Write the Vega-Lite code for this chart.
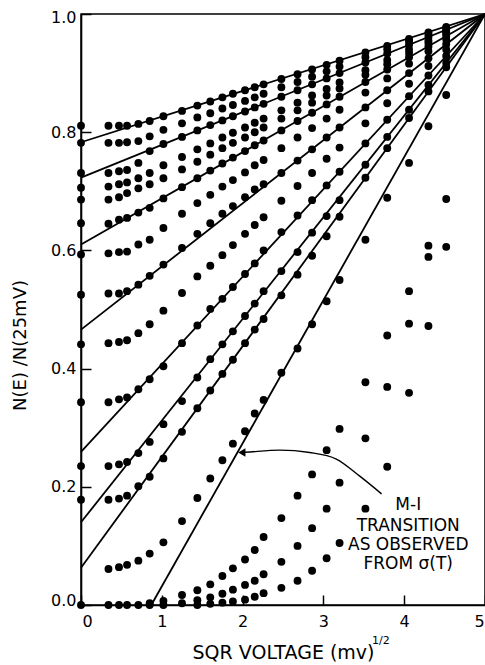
{
"$schema":"https://vega.github.io/schema/vega-lite/v6.json",
"width":404,"height":591,
"autosize":"none",
"padding":{"left":81,"top":14,"right":0,"bottom":60},
"background":"white",
"config":{"view":{"stroke":"black","strokeWidth":1.5},
"axis":{"domainColor":"black","domainWidth":1.6,"tickColor":"black","tickWidth":1.5,"tickSize":-10,"grid":false,"labelFont":"DejaVu Sans","labelFontSize":16,"labelColor":"black","titleFont":"DejaVu Sans","titleFontSize":17,"titleFontWeight":"normal","titleColor":"black"},
"axisX":{"labelPadding":18,"labelFlush":false},
"axisY":{"labelPadding":15}},
"datasets":{
"lines":[{"x":0,"y":0.783,"x2":5,"y2":1},{"x":0,"y":0.723,"x2":5,"y2":1},{"x":0,"y":0.61,"x2":5,"y2":1},{"x":0,"y":0.466,"x2":5,"y2":1},{"x":0,"y":0.259,"x2":5,"y2":1},{"x":0,"y":0.14,"x2":5,"y2":1},{"x":0,"y":0.063,"x2":5,"y2":1},{"x":0.87,"y":0,"x2":5,"y2":1}],
"pts":[
{"x":0,"y":0.811},{"x":0.34,"y":0.811},{"x":0.47,"y":0.811},{"x":0.57,"y":0.811},{"x":0.71,"y":0.814},{"x":0.85,"y":0.819},{"x":1.02,"y":0.827},{"x":1.25,"y":0.836},{"x":1.44,"y":0.845},{"x":1.6,"y":0.852},{"x":1.75,"y":0.859},{"x":1.88,"y":0.865},{"x":2.03,"y":0.871},{"x":2.15,"y":0.876},{"x":2.26,"y":0.881},{"x":2.48,"y":0.89},{"x":2.68,"y":0.898},{"x":2.86,"y":0.906},{"x":3.04,"y":0.914},{"x":3.2,"y":0.921},{"x":3.52,"y":0.935},{"x":3.79,"y":0.946},{"x":4.06,"y":0.958},{"x":4.3,"y":0.969},{"x":4.52,"y":0.978},
{"x":0,"y":0.782},{"x":0.34,"y":0.782},{"x":0.47,"y":0.782},{"x":0.57,"y":0.783},{"x":0.71,"y":0.785},{"x":0.85,"y":0.793},{"x":1.02,"y":0.804},{"x":1.25,"y":0.815},{"x":1.44,"y":0.825},{"x":1.6,"y":0.832},{"x":1.75,"y":0.84},{"x":1.88,"y":0.846},{"x":2.03,"y":0.853},{"x":2.15,"y":0.859},{"x":2.26,"y":0.865},{"x":2.48,"y":0.876},{"x":2.68,"y":0.885},{"x":2.86,"y":0.894},{"x":3.04,"y":0.903},{"x":3.2,"y":0.911},{"x":3.52,"y":0.927},{"x":3.79,"y":0.94},{"x":4.06,"y":0.954},{"x":4.3,"y":0.966},{"x":4.52,"y":0.976},
{"x":0,"y":0.731},{"x":0.34,"y":0.731},{"x":0.47,"y":0.734},{"x":0.57,"y":0.736},{"x":0.71,"y":0.748},{"x":0.85,"y":0.768},{"x":1.02,"y":0.78},{"x":1.25,"y":0.792},{"x":1.44,"y":0.803},{"x":1.6,"y":0.812},{"x":1.75,"y":0.82},{"x":1.88,"y":0.827},{"x":2.03,"y":0.835},{"x":2.15,"y":0.842},{"x":2.26,"y":0.848},{"x":2.48,"y":0.86},{"x":2.68,"y":0.871},{"x":2.86,"y":0.881},{"x":3.04,"y":0.891},{"x":3.2,"y":0.9},{"x":3.52,"y":0.918},{"x":3.79,"y":0.933},{"x":4.06,"y":0.948},{"x":4.3,"y":0.961},{"x":4.52,"y":0.973},
{"x":0,"y":0.706},{"x":0.34,"y":0.708},{"x":0.47,"y":0.712},{"x":0.57,"y":0.715},{"x":0.71,"y":0.722},{"x":0.85,"y":0.731},{"x":1.02,"y":0.744},{"x":1.25,"y":0.758},{"x":1.44,"y":0.771},{"x":1.6,"y":0.781},{"x":1.75,"y":0.791},{"x":1.88,"y":0.799},{"x":2.03,"y":0.808},{"x":2.15,"y":0.816},{"x":2.26,"y":0.823},{"x":2.48,"y":0.837},{"x":2.68,"y":0.85},{"x":2.86,"y":0.862},{"x":3.04,"y":0.873},{"x":3.2,"y":0.884},{"x":3.52,"y":0.905},{"x":3.79,"y":0.922},{"x":4.06,"y":0.94},{"x":4.3,"y":0.955},{"x":4.52,"y":0.969},
{"x":0,"y":0.686},{"x":0.34,"y":0.686},{"x":0.47,"y":0.69},{"x":0.57,"y":0.697},{"x":0.71,"y":0.705},{"x":0.85,"y":0.712},{"x":1.02,"y":0.722},{"x":1.25,"y":0.737},{"x":1.44,"y":0.75},{"x":1.6,"y":0.762},{"x":1.75,"y":0.773},{"x":1.88,"y":0.782},{"x":2.03,"y":0.791},{"x":2.15,"y":0.8},{"x":2.26,"y":0.808},{"x":2.48,"y":0.823},{"x":2.68,"y":0.837},{"x":2.86,"y":0.85},{"x":3.04,"y":0.862},{"x":3.2,"y":0.874},{"x":3.52,"y":0.897},{"x":3.79,"y":0.915},{"x":4.06,"y":0.934},{"x":4.3,"y":0.951},{"x":4.52,"y":0.967},
{"x":0,"y":0.646},{"x":0.34,"y":0.645},{"x":0.47,"y":0.652},{"x":0.57,"y":0.655},{"x":0.71,"y":0.664},{"x":0.85,"y":0.672},{"x":1.02,"y":0.688},{"x":1.25,"y":0.707},{"x":1.44,"y":0.722},{"x":1.6,"y":0.735},{"x":1.75,"y":0.747},{"x":1.88,"y":0.757},{"x":2.03,"y":0.768},{"x":2.15,"y":0.778},{"x":2.26,"y":0.786},{"x":2.48,"y":0.803},{"x":2.68,"y":0.819},{"x":2.86,"y":0.833},{"x":3.04,"y":0.847},{"x":3.2,"y":0.86},{"x":3.52,"y":0.885},{"x":3.79,"y":0.906},{"x":4.06,"y":0.927},{"x":4.3,"y":0.945},{"x":4.52,"y":0.963},
{"x":0,"y":0.593},{"x":0.34,"y":0.595},{"x":0.47,"y":0.597},{"x":0.57,"y":0.598},{"x":0.71,"y":0.61},{"x":0.85,"y":0.618},{"x":1.02,"y":0.638},{"x":1.25,"y":0.662},{"x":1.44,"y":0.68},{"x":1.6,"y":0.694},{"x":1.75,"y":0.708},{"x":1.88,"y":0.719},{"x":2.03,"y":0.732},{"x":2.15,"y":0.744},{"x":2.26,"y":0.753},{"x":2.48,"y":0.773},{"x":2.68,"y":0.791},{"x":2.86,"y":0.807},{"x":3.04,"y":0.823},{"x":3.2,"y":0.838},{"x":3.52,"y":0.867},{"x":3.79,"y":0.891},{"x":4.06,"y":0.916},{"x":4.3,"y":0.937},{"x":4.52,"y":0.957},
{"x":0,"y":0.525},{"x":0.34,"y":0.527},{"x":0.47,"y":0.527},{"x":0.57,"y":0.531},{"x":0.71,"y":0.542},{"x":0.85,"y":0.557},{"x":1.02,"y":0.576},{"x":1.25,"y":0.604},{"x":1.44,"y":0.628},{"x":1.6,"y":0.646},{"x":1.75,"y":0.662},{"x":1.88,"y":0.675},{"x":2.03,"y":0.69},{"x":2.15,"y":0.703},{"x":2.26,"y":0.712},{"x":2.48,"y":0.731},{"x":2.68,"y":0.752},{"x":2.86,"y":0.771},{"x":3.04,"y":0.791},{"x":3.2,"y":0.808},{"x":3.52,"y":0.842},{"x":3.79,"y":0.871},{"x":4.06,"y":0.9},{"x":4.3,"y":0.925},{"x":4.52,"y":0.949},
{"x":0,"y":0.441},{"x":0.34,"y":0.443},{"x":0.47,"y":0.445},{"x":0.57,"y":0.448},{"x":0.71,"y":0.46},{"x":0.85,"y":0.475},{"x":1.02,"y":0.498},{"x":1.25,"y":0.528},{"x":1.44,"y":0.556},{"x":1.6,"y":0.574},{"x":1.75,"y":0.592},{"x":1.88,"y":0.609},{"x":2.03,"y":0.628},{"x":2.15,"y":0.643},{"x":2.26,"y":0.656},{"x":2.48,"y":0.684},{"x":2.68,"y":0.709},{"x":2.86,"y":0.731},{"x":3.04,"y":0.755},{"x":3.2,"y":0.774},{"x":3.52,"y":0.815},{"x":3.79,"y":0.849},{"x":4.06,"y":0.882},{"x":4.3,"y":0.912},{"x":4.52,"y":0.94},
{"x":0,"y":0.343},{"x":0.34,"y":0.343},{"x":0.47,"y":0.348},{"x":0.57,"y":0.351},{"x":0.71,"y":0.365},{"x":0.85,"y":0.382},{"x":1.02,"y":0.404},{"x":1.25,"y":0.443},{"x":1.44,"y":0.473},{"x":1.6,"y":0.501},{"x":1.75,"y":0.518},{"x":1.88,"y":0.538},{"x":2.03,"y":0.56},{"x":2.15,"y":0.578},{"x":2.26,"y":0.6},{"x":2.48,"y":0.631},{"x":2.68,"y":0.659},{"x":2.86,"y":0.685},{"x":3.04,"y":0.71},{"x":3.2,"y":0.733},{"x":3.52,"y":0.781},{"x":3.79,"y":0.821},{"x":4.06,"y":0.861},{"x":4.3,"y":0.896},{"x":4.52,"y":0.929},
{"x":0,"y":0.235},{"x":0.34,"y":0.235},{"x":0.47,"y":0.238},{"x":0.57,"y":0.242},{"x":0.71,"y":0.257},{"x":0.85,"y":0.276},{"x":1.02,"y":0.306},{"x":1.25,"y":0.345},{"x":1.44,"y":0.385},{"x":1.6,"y":0.416},{"x":1.75,"y":0.441},{"x":1.88,"y":0.463},{"x":2.03,"y":0.489},{"x":2.15,"y":0.51},{"x":2.26,"y":0.531},{"x":2.48,"y":0.565},{"x":2.68,"y":0.597},{"x":2.86,"y":0.63},{"x":3.04,"y":0.658},{"x":3.2,"y":0.685},{"x":3.52,"y":0.745},{"x":3.79,"y":0.792},{"x":4.06,"y":0.838},{"x":4.3,"y":0.88},{"x":4.52,"y":0.917},
{"x":0,"y":0.178},{"x":0.34,"y":0.178},{"x":0.47,"y":0.18},{"x":0.57,"y":0.185},{"x":0.71,"y":0.201},{"x":0.85,"y":0.217},{"x":1.02,"y":0.248},{"x":1.25,"y":0.293},{"x":1.44,"y":0.333},{"x":1.6,"y":0.363},{"x":1.75,"y":0.391},{"x":1.88,"y":0.415},{"x":2.03,"y":0.443},{"x":2.15,"y":0.466},{"x":2.26,"y":0.484},{"x":2.48,"y":0.524},{"x":2.68,"y":0.559},{"x":2.86,"y":0.591},{"x":3.04,"y":0.624},{"x":3.2,"y":0.657},{"x":3.52,"y":0.723},{"x":3.79,"y":0.773},{"x":4.06,"y":0.824},{"x":4.3,"y":0.869},{"x":4.52,"y":0.91},
{"x":0.34,"y":0.061},{"x":0.47,"y":0.064},{"x":0.57,"y":0.068},{"x":0.71,"y":0.075},{"x":0.85,"y":0.087},{"x":1.02,"y":0.106},{"x":1.25,"y":0.142},{"x":1.44,"y":0.181},{"x":1.6,"y":0.214},{"x":1.75,"y":0.245},{"x":1.88,"y":0.273},{"x":2.03,"y":0.294},{"x":2.15,"y":0.324},{"x":2.26,"y":0.347},{"x":2.48,"y":0.393},{"x":2.68,"y":0.434},{"x":2.86,"y":0.475},{"x":3.04,"y":0.514},{"x":3.2,"y":0.55},{"x":3.52,"y":0.618},{"x":3.79,"y":0.689},{"x":4.06,"y":0.748},{"x":4.3,"y":0.81},{"x":4.52,"y":0.863},
{"x":0,"y":0},{"x":0.34,"y":0},{"x":0.47,"y":0},{"x":0.57,"y":0},{"x":0.71,"y":0},{"x":0.85,"y":0.003},{"x":1.02,"y":0.007},{"x":1.25,"y":0.017},{"x":1.44,"y":0.025},{"x":1.6,"y":0.035},{"x":1.75,"y":0.049},{"x":1.88,"y":0.062},{"x":2.03,"y":0.077},{"x":2.15,"y":0.093},{"x":2.26,"y":0.115},{"x":2.48,"y":0.147},{"x":2.68,"y":0.185},{"x":2.86,"y":0.221},{"x":3.04,"y":0.262},{"x":3.2,"y":0.298},{"x":3.52,"y":0.377},{"x":3.79,"y":0.456},{"x":4.06,"y":0.531},{"x":4.3,"y":0.608},{"x":4.52,"y":0.687},
{"x":0.85,"y":0},{"x":1.02,"y":0},{"x":1.25,"y":0.003},{"x":1.44,"y":0.008},{"x":1.6,"y":0.013},{"x":1.75,"y":0.019},{"x":1.88,"y":0.026},{"x":2.03,"y":0.034},{"x":2.15,"y":0.041},{"x":2.26,"y":0.052},{"x":2.48,"y":0.073},{"x":2.68,"y":0.1},{"x":2.86,"y":0.13},{"x":3.04,"y":0.163},{"x":3.2,"y":0.207},{"x":3.52,"y":0.282},{"x":3.79,"y":0.369},{"x":4.06,"y":0.476},{"x":4.3,"y":0.589},
{"x":1.44,"y":0},{"x":1.6,"y":0.002},{"x":1.75,"y":0.004},{"x":1.88,"y":0.006},{"x":2.03,"y":0.009},{"x":2.15,"y":0.014},{"x":2.26,"y":0.02},{"x":2.48,"y":0.029},{"x":2.68,"y":0.041},{"x":2.86,"y":0.058},{"x":3.04,"y":0.079},{"x":3.2,"y":0.105},{"x":3.52,"y":0.163},{"x":3.79,"y":0.234},{"x":4.06,"y":0.359},{"x":4.3,"y":0.472},{"x":4.52,"y":0.606}
],
"arrow":[{"x":3.72,"y":0.188},{"x":3.45,"y":0.218},{"x":3.16,"y":0.247},{"x":2.83,"y":0.258},{"x":2.46,"y":0.262},{"x":2.09,"y":0.259},{"x":1.99,"y":0.258}],
"head":[{"x":1.99,"y":0.258}],
"label":[{"x":4.05,"y":0.169,"t":"M-I"},{"x":4.05,"y":0.133,"t":"TRANSITION"},{"x":4.05,"y":0.101,"t":"AS OBSERVED"},{"x":4.05,"y":0.07,"t":"FROM σ(T)"}],
"sup":[{"x":3.71,"y":-0.061,"t":"1/2"}]
},
"layer":[
{"data":{"name":"lines"},"mark":{"type":"rule","color":"black","strokeWidth":1.8},
 "encoding":{
  "x":{"field":"x","type":"quantitative","scale":{"domain":[0,5],"nice":false,"zero":false},
       "axis":{"values":[0,1,2,3,4,5],"format":"d","title":"SQR  VOLTAGE (mv)","titleFontSize":19,"titleBaseline":"middle","titleY":47,
               "labelOffset":{"condition":[{"test":"datum.value === 0","value":6},{"test":"datum.value === 5","value":-6}],"value":0}}},
  "y":{"field":"y","type":"quantitative","scale":{"domain":[0,1],"nice":false,"zero":false},
       "axis":{"values":[0,0.2,0.4,0.6,0.8,1.0],"format":".1f","title":"N(E) /N(25mV)","titleFontSize":18,"titleX":-61,"titleY":331,"titleBaseline":"middle",
               "labelOffset":{"condition":[{"test":"datum.value === 0","value":-5},{"test":"datum.value === 1","value":3}],"value":0}}},
  "x2":{"field":"x2"},"y2":{"field":"y2"}}},
{"data":{"name":"pts"},"mark":{"type":"point","filled":true,"color":"black","size":62,"opacity":1},
 "encoding":{"x":{"field":"x","type":"quantitative"},"y":{"field":"y","type":"quantitative"}}},
{"data":{"name":"arrow"},"mark":{"type":"line","color":"black","strokeWidth":1.4,"interpolate":"monotone"},
 "encoding":{"x":{"field":"x","type":"quantitative"},"y":{"field":"y","type":"quantitative"}}},
{"data":{"name":"head"},"mark":{"type":"point","shape":"triangle-left","filled":true,"color":"black","size":70,"opacity":1},
 "encoding":{"x":{"field":"x","type":"quantitative"},"y":{"field":"y","type":"quantitative"}}},
{"data":{"name":"label"},"mark":{"type":"text","font":"DejaVu Sans","fontSize":17,"color":"black","align":"center","baseline":"middle"},
 "encoding":{"x":{"field":"x","type":"quantitative"},"y":{"field":"y","type":"quantitative"},"text":{"field":"t"}}},
{"data":{"name":"sup"},"mark":{"type":"text","font":"DejaVu Sans","fontSize":11,"color":"black","align":"center","baseline":"middle"},
 "encoding":{"x":{"field":"x","type":"quantitative"},"y":{"field":"y","type":"quantitative"},"text":{"field":"t"}}}
]
}
